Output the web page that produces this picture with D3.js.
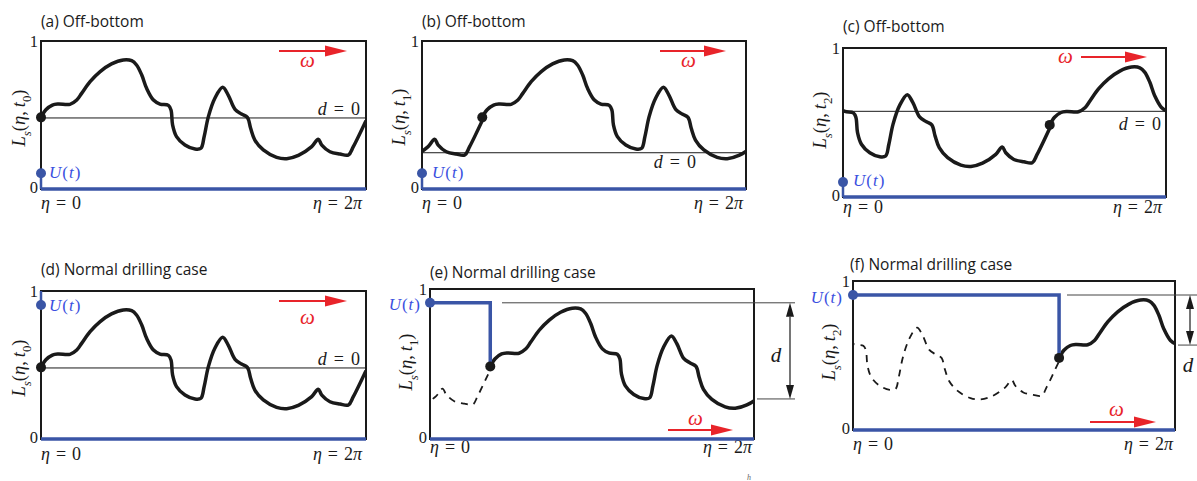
<!DOCTYPE html>
<html>
<head>
<meta charset="utf-8">
<script src="https://cdn.jsdelivr.net/npm/d3@7"></script>
<style>
body{margin:0;background:#fff}
text{font-family:'Liberation Serif','DejaVu Serif',serif}
</style>
</head>
<body>
<svg id="fig" width="1197" height="481"></svg>
<script>
// surface profile L_s; eta in turns (1 = 2pi)
const profileEta = [0, 0.015, 0.035, 0.053, 0.089, 0.110, 0.125, 0.151, 0.182, 0.217, 0.253, 0.279, 0.294, 0.310, 0.325, 0.346, 0.366, 0.392, 0.400, 0.405, 0.417, 0.443, 0.474, 0.492, 0.502, 0.515, 0.535, 0.559, 0.576, 0.597, 0.617, 0.635, 0.645, 0.658, 0.684, 0.725, 0.756, 0.792, 0.833, 0.853, 0.864, 0.889, 0.920, 0.946, 0.961, 1.0]
const profileLs = [0.484, 0.535, 0.567, 0.574, 0.572, 0.601, 0.646, 0.725, 0.793, 0.845, 0.872, 0.867, 0.838, 0.770, 0.680, 0.601, 0.574, 0.565, 0.534, 0.432, 0.354, 0.297, 0.270, 0.275, 0.354, 0.489, 0.613, 0.687, 0.635, 0.538, 0.507, 0.484, 0.410, 0.331, 0.264, 0.214, 0.205, 0.227, 0.286, 0.336, 0.297, 0.252, 0.236, 0.230, 0.286, 0.462]

const panelTitles = ['(a) Off-bottom', '(b) Off-bottom', '(c) Off-bottom', '(d) Normal drilling case', '(e) Normal drilling case', '(f) Normal drilling case']
const timeIndex = ['0', '1', '2', '0', '1', '2']
const drillingMode = ['off', 'off', 'off', 'normal', 'normal', 'normal']
const profileShift = [0, 0.186, 0.64, 0, 0.186, 0.64]   // rotation of the profile between t0, t1, t2
const bitLevel = [0.106, 0.106, 0.10, 0.905, 0.908, 0.906]  // U(t)
const zeroDepthLevel = [0.48, 0.245, 0.575, 0.48, null, null]
const cutLevel = [null, null, null, null, 0.267, 0.57]     // surface height at eta = 2pi
const yTickLabels = ['0', '1']

const layout = [
  {l:41, r:366, t:41, b:189, title:[41,27], ylab:[25,118], etaY:209, etaR:362, dLab:[360,115], om:{x1:279,x2:347,y:51,lx:300,ly:67}, u:{x:49,y:178,anchor:'start'}},
  {l:422, r:746, t:41, b:189, title:[422,27], ylab:[405,117], etaY:209, etaR:743, dLab:[696,168], om:{x1:660,x2:726,y:51,lx:681,ly:67}, u:{x:432,y:178,anchor:'start'}},
  {l:843, r:1166, t:48, b:197, title:[843,32], ylab:[826,120], etaY:213, etaR:1162, dLab:[1161,130], om:{x1:1081,x2:1147,y:57,lx:1058,ly:63}, u:{x:853,y:186,anchor:'start'}},
  {l:41, r:366, t:291, b:439, title:[41,275], ylab:[25,368], etaY:460, etaR:362, dLab:[360,365], om:{x1:279,x2:347,y:301,lx:300,ly:324}, u:{x:49,y:311,anchor:'start'}},
  {l:430, r:754, t:289, b:439, title:[430,278], ylab:[412,362], etaY:453, etaR:752, dRule:{from:502,to:795,x:790,lx:776,ly:362}, om:{x1:668,x2:733,y:430,lx:688,ly:425}, u:{x:420,y:310,anchor:'end'}},
  {l:853, r:1175, t:281, b:430, title:[850,270], ylab:[835,352], etaY:450, etaR:1173, dRule:{from:1067,to:1197,x:1190,lx:1188,ly:372}, om:{x1:1090,x2:1156,y:422,lx:1109,ly:416}, u:{x:842,y:303,anchor:'end'}}
]

const INK = '#1a1a1a'
const BLUE = '#3a55a6'
const BLUE_TXT = '#3a4fe0'
const RED = '#e8242a'

// parts: [text, style, dx] ; style i = italic, n = upright, si/sn = subscript
function mathText(sel, parts, size){
  let inSub = false
  parts.forEach(p => {
    const sub = p[1][0] === 's'
    const t = sel.append('tspan')
      .text(p[0])
      .attr('font-style', p[1].endsWith('i') ? 'italic' : 'normal')
      .attr('font-size', sub ? size * 0.7 : size)
    let dy = 0
    if(sub && !inSub) dy = size * 0.3
    if(!sub && inSub) dy = -size * 0.3
    if(dy) t.attr('dy', dy)
    if(p[2]) t.attr('dx', p[2])
    inSub = sub
  })
  return sel
}

function arrowRight(g, x1, x2, y){
  g.append('line').attr('x1', x1).attr('x2', x2 - 20).attr('y1', y).attr('y2', y)
    .attr('stroke', RED).attr('stroke-width', 2)
  g.append('path').attr('d', `M${x2 - 22},${y - 5.5}L${x2},${y}L${x2 - 22},${y + 5.5}Z`).attr('fill', RED)
}

function doubleArrow(g, x, y1, y2){
  const hl = 14, hw = 4
  g.append('line').attr('x1', x).attr('x2', x).attr('y1', y1 + hl).attr('y2', y2 - hl)
    .attr('stroke', INK).attr('stroke-width', 1.2)
  g.append('path').attr('d', `M${x},${y1}L${x + hw},${y1 + hl}L${x - hw},${y1 + hl}Z`).attr('fill', INK)
  g.append('path').attr('d', `M${x},${y2}L${x + hw},${y2 - hl}L${x - hw},${y2 - hl}Z`).attr('fill', INK)
}

const svg = d3.select('#fig')
const line = d3.line().curve(d3.curveCatmullRom.alpha(0.5))

function drawPanel(i){
  const L = layout[i]
  const s = profileShift[i]
  const mode = drillingMode[i]
  const U = bitLevel[i]
  const g = svg.append('g')
  const x = d3.scaleLinear().domain([0, 1]).range([L.l, L.r])
  const y = d3.scaleLinear().domain([0, 1]).range([L.b, L.t])

  g.append('clipPath').attr('id', 'clip' + i)
    .append('rect').attr('x', x(0)).attr('y', y(1) - 10).attr('width', x(1) - x(0)).attr('height', y(0) - y(1) + 20)

  // title
  g.append('text').attr('x', L.title[0]).attr('y', L.title[1])
    .style('font-family', '"Open Sans", sans-serif').attr('font-size', 15.5).attr('fill', INK)
    .text(panelTitles[i])

  // frame
  g.append('rect').attr('x', x(0)).attr('y', y(1)).attr('width', x(1) - x(0)).attr('height', y(0) - y(1))
    .attr('fill', 'none').attr('stroke', INK).attr('stroke-width', 2)

  // y ticks 0 / 1
  yTickLabels.forEach((lab, k) => {
    g.append('text').attr('x', x(0) - 3).attr('y', k === 0 ? y(0) + 4 : y(1) + 5.5)
      .attr('text-anchor', 'end').attr('font-size', 16.5).attr('fill', INK)
      .text(lab)
  })

  // y label
  mathText(g.append('text')
    .attr('transform', `translate(${L.ylab[0]},${L.ylab[1]}) rotate(-90)`)
    .attr('text-anchor', 'middle').attr('fill', INK),
    [['L','i'],['s','si'],['(','n'],['η','i'],[',','n'],['t','i',4],[timeIndex[i],'sn'],[')','n']], 18.5)

  // eta labels
  mathText(g.append('text').attr('x', x(0)).attr('y', L.etaY).attr('fill', INK),
    [['η','i'],['=','n',6],['0','n',6]], 18)
  mathText(g.append('text').attr('x', L.etaR).attr('y', L.etaY).attr('text-anchor', 'end').attr('fill', INK),
    [['η','i'],['=','n',6],['2','n',6],['π','i']], 18)

  // d = 0 reference
  if(zeroDepthLevel[i] !== null){
    g.append('line').attr('x1', x(0)).attr('x2', x(1)).attr('y1', y(zeroDepthLevel[i])).attr('y2', y(zeroDepthLevel[i]))
      .attr('stroke', INK).attr('stroke-width', 1)
    mathText(g.append('text').attr('x', L.dLab[0]).attr('y', L.dLab[1]).attr('text-anchor', 'end').attr('fill', INK),
      [['d','i'],['=','n',7],['0','n',7]], 18)
  }

  // depth of cut rule (e, f)
  if(L.dRule){
    const yc = y(cutLevel[i])
    g.append('line').attr('x1', L.dRule.from).attr('x2', L.dRule.to).attr('y1', y(U)).attr('y2', y(U))
      .attr('stroke', '#444').attr('stroke-width', 1)
    g.append('line').attr('x1', x(1) + 3).attr('x2', L.dRule.to).attr('y1', yc).attr('y2', yc)
      .attr('stroke', '#444').attr('stroke-width', 1)
    doubleArrow(g, L.dRule.x, y(U), yc)
    mathText(g.append('text').attr('x', L.dRule.lx).attr('y', L.dRule.ly)
      .attr('text-anchor', 'middle').attr('fill', INK), [['d','i']], 21)
  }

  // bit trajectory, bottom
  g.append('line').attr('x1', x(0)).attr('x2', x(1)).attr('y1', y(0)).attr('y2', y(0))
    .attr('stroke', BLUE).attr('stroke-width', 3.5)

  // surface profile: solid after the cutter, dashed (already removed) before it
  const clip = g.append('g').attr('clip-path', `url(#clip${i})`)
  const solid = profileEta.map((e, j) => [x(e + s), y(profileLs[j])])
  const prior = profileEta.map((e, j) => [x(e + s - 1), y(profileLs[j])])
  clip.append('path').attr('d', line(prior)).attr('fill', 'none').attr('stroke', INK)
    .attr('stroke-width', mode === 'normal' ? 1.8 : 3.5)
    .attr('stroke-dasharray', mode === 'normal' ? '7 6' : null)
    .attr('stroke-dashoffset', mode === 'normal' ? 9 : null)
  clip.append('path').attr('d', line(solid)).attr('fill', 'none').attr('stroke', INK)
    .attr('stroke-width', 3.5).attr('stroke-linejoin', 'round')

  // bit position U(t)
  if(mode === 'off'){
    g.append('line').attr('x1', x(0)).attr('x2', x(0)).attr('y1', y(0)).attr('y2', y(U))
      .attr('stroke', BLUE).attr('stroke-width', 2.5)
  } else if(s === 0){
    g.append('line').attr('x1', x(0)).attr('x2', x(0)).attr('y1', y(1)).attr('y2', y(U))
      .attr('stroke', BLUE).attr('stroke-width', 2.5)
  } else {
    g.append('path').attr('d', `M${x(0)},${y(U)}H${x(s)}V${y(profileLs[0])}`)
      .attr('fill', 'none').attr('stroke', BLUE).attr('stroke-width', 3.5)
  }

  g.append('circle').attr('cx', x(s)).attr('cy', y(profileLs[0])).attr('r', 5).attr('fill', INK)
  g.append('circle').attr('cx', x(0)).attr('cy', y(U)).attr('r', 5).attr('fill', BLUE)
  mathText(g.append('text').attr('x', L.u.x).attr('y', L.u.y).attr('text-anchor', L.u.anchor)
    .attr('fill', BLUE_TXT),
    [['U','i'],['(','n',1],['t','i',1],[')','n',1]], 17)

  // rotation direction
  arrowRight(g, L.om.x1, L.om.x2, L.om.y)
  g.append('text').attr('x', L.om.lx).attr('y', L.om.ly)
    .attr('font-style', 'italic').attr('font-size', 21).attr('fill', RED).text('ω')
}

for(let i = 0; i < 6; i++) drawPanel(i)

// stray glyph at bottom edge of the source
svg.append('text').attr('x', 747).attr('y', 480).attr('font-style', 'italic')
  .attr('font-size', 8).attr('fill', '#666').text('h')
</script>
</body>
</html>
